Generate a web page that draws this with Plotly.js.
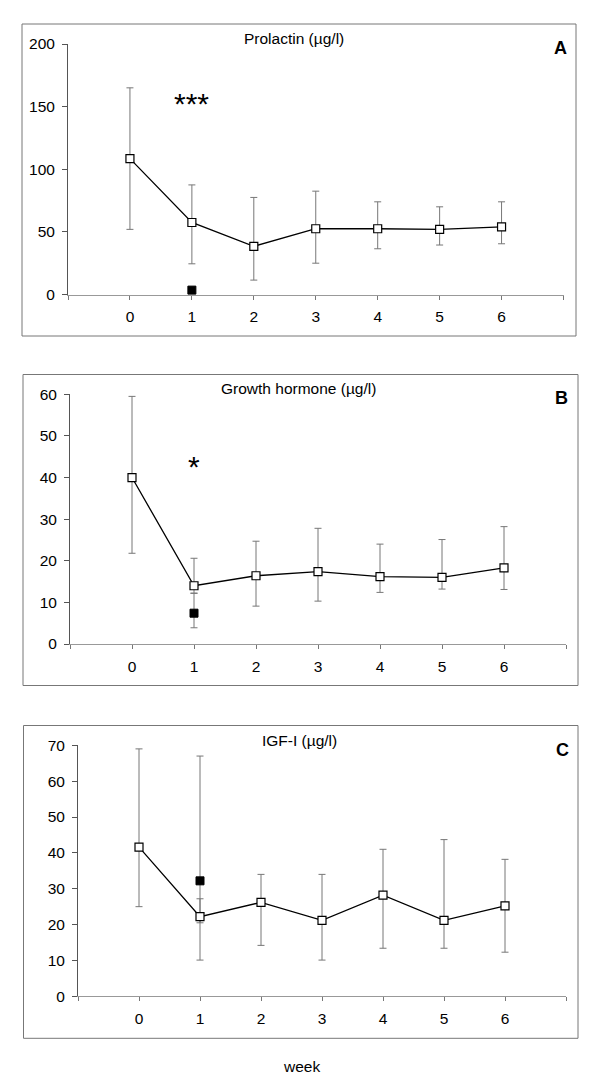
<!DOCTYPE html>
<html>
<head>
<meta charset="utf-8">
<script src="https://cdn.plot.ly/plotly-3.0.1.min.js"></script>
<style>html,body{margin:0;padding:0;background:#fff;}#chart{width:603px;height:1092px;}</style>
</head>
<body>
<div id="chart"></div>
<script>
// ---- data ----
const weeks = [0, 1, 2, 3, 4, 5, 6];
const weekTickVals = [-1, 0, 1, 2, 3, 4, 5, 6, 7];
const weekTickText = ['', '0', '1', '2', '3', '4', '5', '6', ''];

// Panel A: Prolactin (µg/l)
const prlMean  = [108.5, 57.5, 38.5, 52.5, 52.5, 52, 54];
const prlUpper = [165, 87.5, 77.5, 82.5, 74, 70, 74];
const prlLower = [52, 24.5, 11.5, 25, 36.5, 39.5, 40.5];
const prlFilledWeek = [1];
const prlFilled = [3.5];
const prlTicks = [0, 50, 100, 150, 200];

// Panel B: Growth hormone (µg/l)
const ghMean  = [40, 14, 16.4, 17.4, 16.2, 16, 18.3];
const ghUpper = [59.5, 20.6, 24.7, 27.8, 24, 25.1, 28.2];
const ghLower = [21.8, 12.2, 9.1, 10.3, 12.4, 13.2, 13.1];
const ghFilledWeek = [1];
const ghFilled = [7.4];
const ghFilledUpper = [12.2];
const ghFilledLower = [3.9];
const ghTicks = [0, 10, 20, 30, 40, 50, 60];

// Panel C: IGF-I (µg/l)
const igfMean  = [41.6, 22.2, 26.2, 21.2, 28.2, 21.2, 25.2];
const igfUpper = [69, 27.2, 34, 34, 41, 43.7, 38.2];
const igfLower = [25, 10.1, 14.2, 10.1, 13.4, 13.4, 12.3];
const igfFilledWeek = [1];
const igfFilled = [32.2];
const igfFilledUpper = [67];
const igfFilledLower = [20.5];
const igfTicks = [0, 10, 20, 30, 40, 50, 60, 70];

const titles = ['Prolactin (µg/l)', 'Growth hormone (µg/l)', 'IGF-I (µg/l)'];
const letters = ['A', 'B', 'C'];
const stars = ['***', '*', ''];
const starY = [156, 43.5, null];
const xLabel = 'week';

// ---- layout helpers ----
const W = 603, H = 1092;
const FONT = 'Liberation Sans, Arial, sans-serif';
const FS = 15.5;
const px = v => v / W;
const py = v => 1 - v / H;

const panels = [
  {x0: 68, x1: 563.5, yTop: 44, yBot: 294.5, range: [0, 200], ticks: prlTicks,
   frame: [22, 24, 576, 336], title: [294, 39], letter: [560, 48]},
  {x0: 70, x1: 566, yTop: 394.3, yBot: 644, range: [0, 60], ticks: ghTicks,
   frame: [23, 374.5, 578, 685.5], title: [298, 388], letter: [561, 398]},
  {x0: 78, x1: 566, yTop: 745.3, yBot: 996.3, range: [0, 70], ticks: igfTicks,
   frame: [23.5, 725.5, 578, 1038.3], title: [299, 740], letter: [562, 749.5]}
];

function errObj(mean, upper, lower, color) {
  return {type: 'data', symmetric: false,
    array: upper.map((u, i) => u - mean[i]),
    arrayminus: lower.map((l, i) => mean[i] - l),
    color: color, thickness: 1, width: 3.5};
}

const series = [
  {mean: prlMean, upper: prlUpper, lower: prlLower, fw: prlFilledWeek, fv: prlFilled, fu: null, fl: null},
  {mean: ghMean, upper: ghUpper, lower: ghLower, fw: ghFilledWeek, fv: ghFilled, fu: ghFilledUpper, fl: ghFilledLower},
  {mean: igfMean, upper: igfUpper, lower: igfLower, fw: igfFilledWeek, fv: igfFilled, fu: igfFilledUpper, fl: igfFilledLower}
];

const data = [];
const layout = {
  width: W, height: H, margin: {l: 0, r: 0, t: 0, b: 0},
  paper_bgcolor: '#fff', plot_bgcolor: 'rgba(0,0,0,0)',
  showlegend: false, font: {family: FONT, color: '#000', size: FS},
  annotations: [], shapes: []
};

series.forEach((s, i) => {
  const n = i + 1;
  const xa = n === 1 ? 'x' : 'x' + n;
  const ya = n === 1 ? 'y' : 'y' + n;
  const p = panels[i];
  const filled = {x: s.fw, y: s.fv, xaxis: xa, yaxis: ya, type: 'scatter', mode: 'markers',
    marker: {symbol: 'square', size: 8, color: '#000', line: {color: '#000', width: 1}},
    cliponaxis: false, hoverinfo: 'skip'};
  if (s.fu) filled.error_y = errObj(s.fv, s.fu, s.fl, '#777');
  data.push(filled);
  data.push({x: weeks, y: s.mean, xaxis: xa, yaxis: ya, type: 'scatter', mode: 'lines+markers',
    line: {color: '#000', width: 1.3},
    marker: {symbol: 'square', size: 8, color: '#fff', line: {color: '#000', width: 1.2}},
    error_y: errObj(s.mean, s.upper, s.lower, '#777'),
    cliponaxis: false, hoverinfo: 'skip'});

  const xKey = n === 1 ? 'xaxis' : 'xaxis' + n;
  const yKey = n === 1 ? 'yaxis' : 'yaxis' + n;
  layout[xKey] = {domain: [px(p.x0), px(p.x1)], anchor: ya, range: [-1, 7],
    tickmode: 'array', tickvals: weekTickVals, ticktext: weekTickText,
    ticks: 'outside', ticklen: 4, tickcolor: '#777', tickwidth: 1,
    showline: true, linecolor: '#999', linewidth: 1, zeroline: false, showgrid: false,
    tickfont: {family: FONT, size: FS, color: '#000'}, ticklabelstandoff: 4, fixedrange: true};
  layout[yKey] = {domain: [py(p.yBot), py(p.yTop)], anchor: xa, range: p.range,
    tickmode: 'array', tickvals: p.ticks,
    ticks: 'outside', ticklen: 5, tickcolor: '#555', tickwidth: 1,
    showline: true, linecolor: '#555', linewidth: 1, zeroline: false, showgrid: false,
    tickfont: {family: FONT, size: FS, color: '#000'}, ticklabelstandoff: 4, fixedrange: true};

  const f = p.frame;
  layout.shapes.push({type: 'rect', xref: 'paper', yref: 'paper',
    x0: px(f[0]), x1: px(f[2]), y0: py(f[3]), y1: py(f[1]),
    line: {color: '#777', width: 1}, fillcolor: 'rgba(0,0,0,0)', layer: 'below'});

  layout.annotations.push({text: titles[i], xref: 'paper', yref: 'paper',
    x: px(p.title[0]), y: py(p.title[1]), xanchor: 'center', yanchor: 'middle',
    showarrow: false, font: {family: FONT, size: FS, color: '#000'}});
  layout.annotations.push({text: '<b>' + letters[i] + '</b>', xref: 'paper', yref: 'paper',
    x: px(p.letter[0]), y: py(p.letter[1]), xanchor: 'center', yanchor: 'middle',
    showarrow: false, font: {family: FONT, size: 18, color: '#000'}});
  if (stars[i]) {
    layout.annotations.push({text: stars[i], xref: xa, yref: ya, x: 1, y: starY[i],
      xanchor: 'center', yanchor: 'middle', yshift: -4,
      showarrow: false, font: {family: FONT, size: 30, color: '#000'}});
  }
});

layout.annotations.push({text: xLabel, xref: 'paper', yref: 'paper',
  x: px(301), y: py(1066), xanchor: 'center', yanchor: 'middle',
  showarrow: false, font: {family: FONT, size: FS, color: '#000'}});

Plotly.newPlot('chart', data, layout, {staticPlot: true, displayModeBar: false});
</script>
</body>
</html>
